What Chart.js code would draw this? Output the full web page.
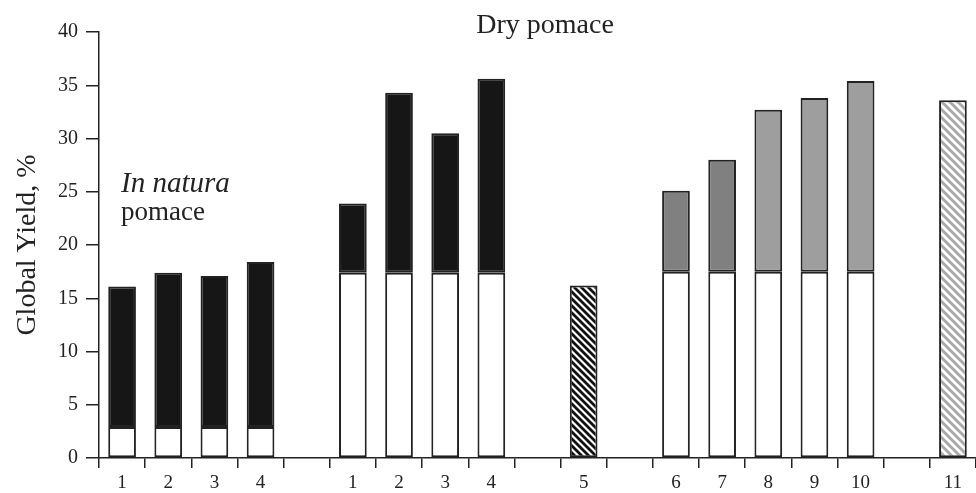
<!DOCTYPE html>
<html>
<head>
<meta charset="utf-8">
<script src="https://cdn.jsdelivr.net/npm/chart.js@4.4.0/dist/chart.umd.min.js"></script>
<style>
    html, body { margin: 0; padding: 0; background: #fff; }
    #wrap { width: 976px; height: 493px; }
</style>
</head>
<body>
<div id="wrap"><canvas id="yield-chart" width="976" height="493"></canvas></div>
<script>
// --- Data ---
const categories = ['1', '2', '3', '4', '', '1', '2', '3', '4', '', '5', '', '6', '7', '8', '9', '10', '', '11'];
// first-step yield (white part of the bar)
const baseYield = [2.9, 2.9, 2.9, 2.9, null, 17.4, 17.4, 17.4, 17.4, null, null, null, 17.5, 17.5, 17.5, 17.5, 17.5, null, null];
// global yield (top of the bar)
const totalYield = [16.1, 17.4, 17.1, 18.4, null, 23.9, 34.3, 30.5, 35.6, null, 16.2, null, 25.1, 28.0, 32.7, 33.8, 35.4, null, 33.6];
const yTicks = [0, 5, 10, 15, 20, 25, 30, 35, 40];

// --- Styles ---
const ink = '#222';
const serif = '"Liberation Serif", "Times New Roman", serif';

function makeStripes(color, size, width) {
    const c = document.createElement('canvas');
    c.width = size;
    c.height = size;
    const g = c.getContext('2d');
    g.fillStyle = '#fff';
    g.fillRect(0, 0, size, size);
    g.strokeStyle = color;
    g.lineWidth = width;
    g.beginPath();
    for (let k = -1; k <= 1; k++) {
        g.moveTo(k * size - 1, -1);
        g.lineTo(k * size + size + 1, size + 1);
    }
    g.stroke();
    return g.createPattern(c, 'repeat');
}

const fills = {
    black: '#161616',
    dark: '#808080',
    light: '#9d9e9d',
    hatchBlack: makeStripes('#111', 7, 2.8),
    hatchGray: makeStripes('#aaa', 8, 3)
};
const topStyle = ['black', 'black', 'black', 'black', null, 'black', 'black', 'black', 'black', null,
    'hatchBlack', null, 'dark', 'dark', 'light', 'light', 'light', null, 'hatchGray'];

// --- Text on the plot ---
const textPlugin = {
    id: 'groupText',
    afterDraw(chart) {
        const ctx = chart.ctx;
        ctx.save();
        ctx.fillStyle = ink;
        ctx.textBaseline = 'alphabetic';
        ctx.textAlign = 'center';
        ctx.font = '28px ' + serif;
        ctx.fillText('Dry pomace', 545, 33);
        ctx.textAlign = 'left';
        ctx.font = 'italic 29px ' + serif;
        ctx.fillText('In natura', 121, 192);
        ctx.font = '27px ' + serif;
        ctx.fillText('pomace', 121, 220);
        ctx.restore();
    }
};

const ctx = document.getElementById('yield-chart').getContext('2d');
new Chart(ctx, {
    type: 'bar',
    data: {
        labels: categories,
        datasets: [{
            label: 'Base',
            data: baseYield.map(v => v == null ? null : [0, v]),
            backgroundColor: '#fff',
            borderColor: ink,
            borderWidth: 2,
            borderSkipped: false,
            grouped: false,
            order: 2
        }, {
            label: 'Global',
            data: totalYield.map((t, i) => t == null ? null : [baseYield[i] == null ? 0 : baseYield[i], t]),
            backgroundColor: topStyle.map(s => s ? fills[s] : '#fff'),
            borderColor: ink,
            borderWidth: 2,
            borderSkipped: false,
            grouped: false,
            order: 1
        }]
    },
    options: {
        responsive: false,
        animation: false,
        layout: { padding: { top: 32, right: 0, bottom: 0, left: 0 } },
        datasets: { bar: { categoryPercentage: 1, barPercentage: 0.6 } },
        plugins: { legend: { display: false }, tooltip: { enabled: false } },
        scales: {
            x: {
                offset: true,
                grid: { offset: true, drawOnChartArea: false, drawTicks: true, tickLength: 10, color: ink, lineWidth: 1.5 },
                border: { color: ink, width: 1.5 },
                ticks: { color: ink, font: { family: serif, size: 19 }, padding: 4, maxRotation: 0, autoSkip: false },
                afterFit: (scale) => { scale.height = 35; }
            },
            y: {
                min: 0,
                max: 40,
                afterBuildTicks: (scale) => { scale.ticks = yTicks.map(v => ({ value: v })); },
                grid: { drawOnChartArea: false, drawTicks: true, tickLength: 13, color: ink, lineWidth: 1.5 },
                border: { color: ink, width: 1.5 },
                ticks: { color: ink, font: { family: serif, size: 20 }, padding: 8 },
                title: {
                    display: true,
                    text: 'Global Yield, %',
                    color: ink,
                    font: { family: serif, size: 28, lineHeight: 1 },
                    padding: { top: 14, bottom: 0 }
                },
                afterFit: (scale) => { scale.width = 99; }
            }
        }
    },
    plugins: [textPlugin]
});
</script>
</body>
</html>
